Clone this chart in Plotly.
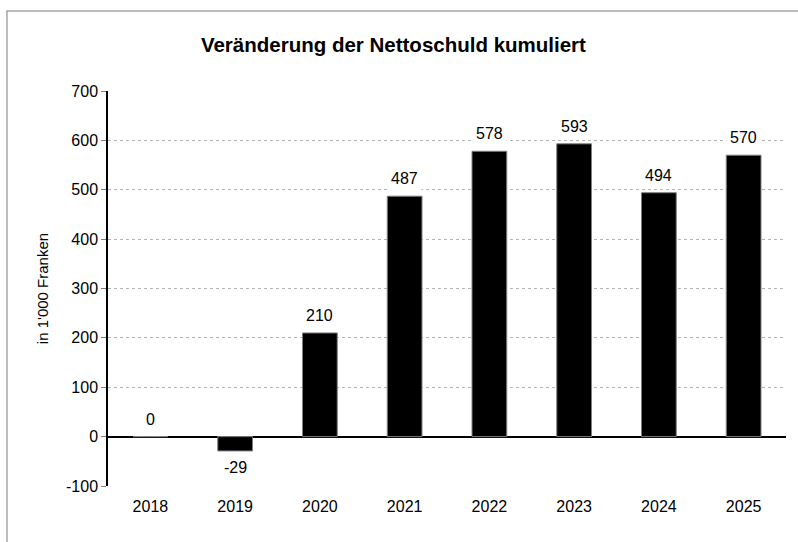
import plotly.graph_objects as go

years = ["2018", "2019", "2020", "2021", "2022", "2023", "2024", "2025"]
values = [0, -29, 210, 487, 578, 593, 494, 570]
y_ticks = [-100, 0, 100, 200, 300, 400, 500, 600, 700]
y_ticklabels = [str(t) for t in y_ticks]

FONT = "Liberation Sans, Arial, sans-serif"

fig = go.Figure()
fig.add_trace(go.Bar(
    x=years, y=values,
    marker=dict(color="black", line=dict(color="#808080", width=1)),
    width=0.41,
    hoverinfo="skip",
))

annotations = []
for i, v in enumerate(values):
    neg = v < 0
    annotations.append(dict(
        x=i, y=v, xref="x", yref="y",
        text=str(v), showarrow=False,
        yanchor="top" if neg else "bottom",
        yshift=-4 if neg else 5,
        bgcolor="white", borderpad=3,
        font=dict(family=FONT, size=16, color="black"),
    ))

fig.update_layout(
    width=798, height=542,
    margin=dict(l=108, r=12, t=91, b=56),
    paper_bgcolor="white", plot_bgcolor="white",
    showlegend=False,
    title=dict(
        text="<b>Veränderung der Nettoschuld kumuliert</b>",
        x=0.493, xanchor="center", y=0.917, yanchor="middle",
        font=dict(family=FONT, size=20.5, color="black"),
    ),
    font=dict(family=FONT, size=16, color="black"),
    annotations=annotations,
    shapes=[dict(
        type="rect", xref="paper", yref="paper",
        x0=-0.149, x1=1.1, y0=-0.3, y1=1.2025,
        line=dict(color="#a6a6a6", width=1.5), fillcolor="rgba(0,0,0,0)",
        layer="below",
    )],
)

fig.update_xaxes(
    type="category", range=[-0.5, len(years) - 0.5],
    showgrid=False, showline=False,
    ticks="outside", ticklen=6, tickcolor="rgba(0,0,0,0)",
    tickfont=dict(family=FONT, size=16, color="black"),
    zeroline=False,
)
fig.update_yaxes(
    range=[-100, 700], tickvals=y_ticks, ticktext=y_ticklabels,
    showgrid=True, gridcolor="#b4b4b4", griddash="dot", gridwidth=1,
    showline=True, linecolor="black", linewidth=1.5,
    ticks="outside", ticklen=5, tickcolor="#808080",
    zeroline=True, zerolinecolor="black", zerolinewidth=1.5,
    tickfont=dict(family=FONT, size=16, color="black"),
    title=dict(text="in 1'000 Franken", font=dict(family=FONT, size=15, color="black"), standoff=14),
)

fig.write_html("out.html", config={"displayModeBar": False},
               post_script="document.body.style.margin='0';")
